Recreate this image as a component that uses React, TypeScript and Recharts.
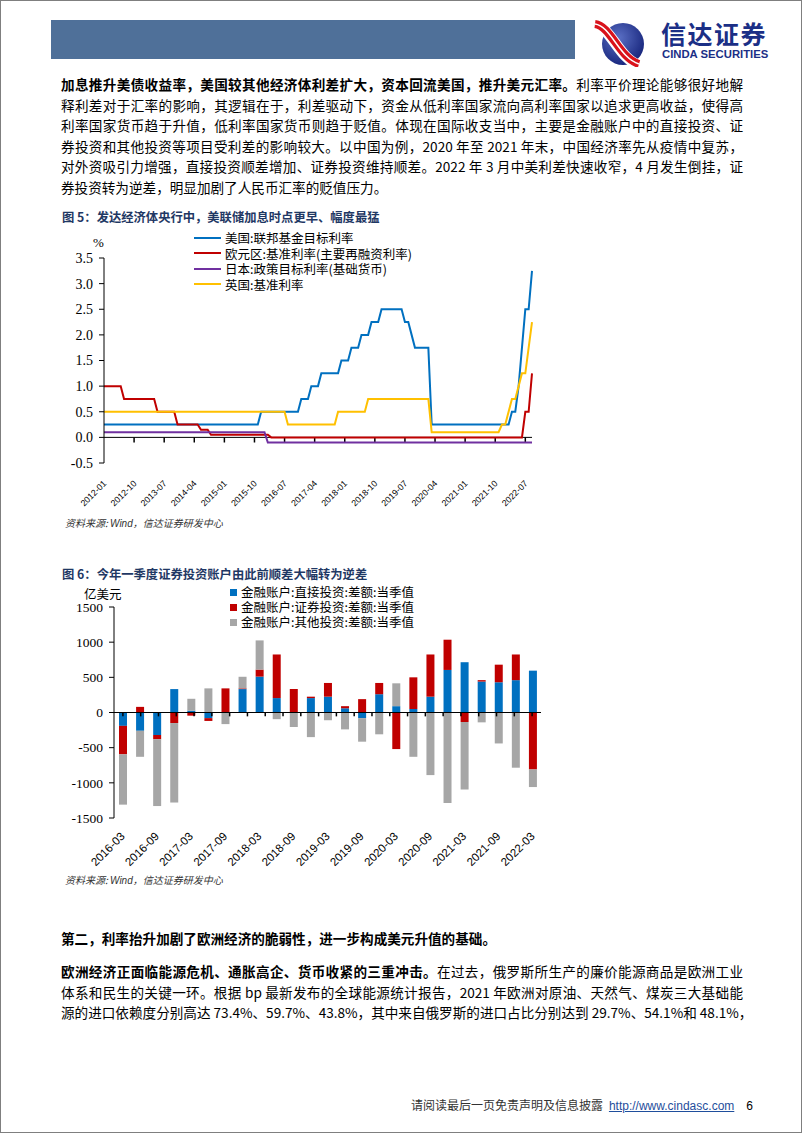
import React from 'react'
import { LineChart, Line, BarChart, Bar, XAxis, YAxis, ReferenceLine } from 'recharts'

const CJK = '"Noto Sans CJK SC", "Noto Sans", sans-serif'
const SERIF = '"Liberation Serif", "Times New Roman", serif'
const SANS = '"Liberation Sans", Arial, sans-serif'

// 图5：月度，2012-01 ~ 2022-09
const MONTHS: string[] = []
for (let y = 2012; y <= 2022; y++) {
  for (let m = 1; m <= 12; m++) {
    if (y < 2022 || m <= 9) MONTHS.push(`${y}-${String(m).padStart(2, '0')}`)
  }
}

const US_RATE = [
  0.25, 0.25, 0.25, 0.25, 0.25, 0.25, 0.25, 0.25, 0.25, 0.25, 0.25, 0.25,
  0.25, 0.25, 0.25, 0.25, 0.25, 0.25, 0.25, 0.25, 0.25, 0.25, 0.25, 0.25,
  0.25, 0.25, 0.25, 0.25, 0.25, 0.25, 0.25, 0.25, 0.25, 0.25, 0.25, 0.25,
  0.25, 0.25, 0.25, 0.25, 0.25, 0.25, 0.25, 0.25, 0.25, 0.25, 0.25, 0.5,
  0.5, 0.5, 0.5, 0.5, 0.5, 0.5, 0.5, 0.5, 0.5, 0.5, 0.5, 0.75,
  0.75, 0.75, 1, 1, 1, 1.25, 1.25, 1.25, 1.25, 1.25, 1.25, 1.5,
  1.5, 1.5, 1.75, 1.75, 1.75, 2, 2, 2, 2.25, 2.25, 2.25, 2.5,
  2.5, 2.5, 2.5, 2.5, 2.5, 2.5, 2.25, 2.25, 2, 1.75, 1.75, 1.75,
  1.75, 1.75, 0.25, 0.25, 0.25, 0.25, 0.25, 0.25, 0.25, 0.25, 0.25, 0.25,
  0.25, 0.25, 0.25, 0.25, 0.25, 0.25, 0.25, 0.25, 0.25, 0.25, 0.25, 0.25,
  0.25, 0.25, 0.5, 0.5, 1, 1.75, 2.5, 2.5, 3.25,
]

const ECB_RATE = [
  1, 1, 1, 1, 1, 1, 0.75, 0.75, 0.75, 0.75, 0.75, 0.75,
  0.75, 0.75, 0.75, 0.75, 0.5, 0.5, 0.5, 0.5, 0.5, 0.5, 0.25, 0.25,
  0.25, 0.25, 0.25, 0.25, 0.25, 0.15, 0.15, 0.15, 0.05, 0.05, 0.05, 0.05,
  0.05, 0.05, 0.05, 0.05, 0.05, 0.05, 0.05, 0.05, 0.05, 0.05, 0.05, 0.05,
  0.05, 0.05, 0, 0, 0, 0, 0, 0, 0, 0, 0, 0,
  0, 0, 0, 0, 0, 0, 0, 0, 0, 0, 0, 0,
  0, 0, 0, 0, 0, 0, 0, 0, 0, 0, 0, 0,
  0, 0, 0, 0, 0, 0, 0, 0, 0, 0, 0, 0,
  0, 0, 0, 0, 0, 0, 0, 0, 0, 0, 0, 0,
  0, 0, 0, 0, 0, 0, 0, 0, 0, 0, 0, 0,
  0, 0, 0, 0, 0, 0, 0.5, 0.5, 1.25,
]

const JP_RATE = [
  0.1, 0.1, 0.1, 0.1, 0.1, 0.1, 0.1, 0.1, 0.1, 0.1, 0.1, 0.1,
  0.1, 0.1, 0.1, 0.1, 0.1, 0.1, 0.1, 0.1, 0.1, 0.1, 0.1, 0.1,
  0.1, 0.1, 0.1, 0.1, 0.1, 0.1, 0.1, 0.1, 0.1, 0.1, 0.1, 0.1,
  0.1, 0.1, 0.1, 0.1, 0.1, 0.1, 0.1, 0.1, 0.1, 0.1, 0.1, 0.1,
  0.1, -0.1, -0.1, -0.1, -0.1, -0.1, -0.1, -0.1, -0.1, -0.1, -0.1, -0.1,
  -0.1, -0.1, -0.1, -0.1, -0.1, -0.1, -0.1, -0.1, -0.1, -0.1, -0.1, -0.1,
  -0.1, -0.1, -0.1, -0.1, -0.1, -0.1, -0.1, -0.1, -0.1, -0.1, -0.1, -0.1,
  -0.1, -0.1, -0.1, -0.1, -0.1, -0.1, -0.1, -0.1, -0.1, -0.1, -0.1, -0.1,
  -0.1, -0.1, -0.1, -0.1, -0.1, -0.1, -0.1, -0.1, -0.1, -0.1, -0.1, -0.1,
  -0.1, -0.1, -0.1, -0.1, -0.1, -0.1, -0.1, -0.1, -0.1, -0.1, -0.1, -0.1,
  -0.1, -0.1, -0.1, -0.1, -0.1, -0.1, -0.1, -0.1, -0.1,
]

const UK_RATE = [
  0.5, 0.5, 0.5, 0.5, 0.5, 0.5, 0.5, 0.5, 0.5, 0.5, 0.5, 0.5,
  0.5, 0.5, 0.5, 0.5, 0.5, 0.5, 0.5, 0.5, 0.5, 0.5, 0.5, 0.5,
  0.5, 0.5, 0.5, 0.5, 0.5, 0.5, 0.5, 0.5, 0.5, 0.5, 0.5, 0.5,
  0.5, 0.5, 0.5, 0.5, 0.5, 0.5, 0.5, 0.5, 0.5, 0.5, 0.5, 0.5,
  0.5, 0.5, 0.5, 0.5, 0.5, 0.5, 0.5, 0.25, 0.25, 0.25, 0.25, 0.25,
  0.25, 0.25, 0.25, 0.25, 0.25, 0.25, 0.25, 0.25, 0.25, 0.25, 0.5, 0.5,
  0.5, 0.5, 0.5, 0.5, 0.5, 0.5, 0.5, 0.75, 0.75, 0.75, 0.75, 0.75,
  0.75, 0.75, 0.75, 0.75, 0.75, 0.75, 0.75, 0.75, 0.75, 0.75, 0.75, 0.75,
  0.75, 0.75, 0.1, 0.1, 0.1, 0.1, 0.1, 0.1, 0.1, 0.1, 0.1, 0.1,
  0.1, 0.1, 0.1, 0.1, 0.1, 0.1, 0.1, 0.1, 0.1, 0.1, 0.1, 0.25,
  0.25, 0.5, 0.75, 0.75, 1, 1.25, 1.25, 1.75, 2.25,
]

const RATE_TICKS = [-0.5, 0, 0.5, 1, 1.5, 2, 2.5, 3, 3.5]

const RATE_SERIES = [
  { key: 'us', name: '美国:联邦基金目标利率', color: '#0070C0' },
  { key: 'ecb', name: '欧元区:基准利率(主要再融资利率)', color: '#C00000' },
  { key: 'jp', name: '日本:政策目标利率(基础货币)', color: '#7030A0' },
  { key: 'uk', name: '英国:基准利率', color: '#FFC000' },
]

// 图6：季度，亿美元
const QUARTERS = [
  '2016-03', '2016-06', '2016-09', '2016-12',
  '2017-03', '2017-06', '2017-09', '2017-12',
  '2018-03', '2018-06', '2018-09', '2018-12',
  '2019-03', '2019-06', '2019-09', '2019-12',
  '2020-03', '2020-06', '2020-09', '2020-12',
  '2021-03', '2021-06', '2021-09', '2021-12',
  '2022-03',
]
const DIRECT = [-190, -260, -320, 333, 25, -80, 0, 333, 510, 205, 0, 205, 225, 60, -80, 260, 90, 50, 225, 605, 715, 440, 430, 460, 595]
const SECURITIES = [-405, 80, -60, -150, -45, -40, 343, 10, 100, 620, 335, 20, 195, 30, 190, 160, -520, 450, 600, 430, -135, 20, 250, 365, -810]
const OTHER = [-715, -370, -950, -1130, 170, 343, -165, 165, 415, -95, -205, -350, -110, -240, -335, -310, 325, -630, -890, -1285, -960, -140, -440, -785, -250]
const FLOW_TICKS = [-1500, -1000, -500, 0, 500, 1000, 1500]
const BAND_EDGES = QUARTERS.map((_, i) => i + 0.5)

const FLOW_SERIES = [
  { key: 'direct', name: '金融账户:直接投资:差额:当季值', color: '#0070C0' },
  { key: 'securities', name: '金融账户:证券投资:差额:当季值', color: '#C00000' },
  { key: 'other', name: '金融账户:其他投资:差额:当季值', color: '#A6A6A6' },
]

const rateRows = MONTHS.map((m, i) => ({ m, us: US_RATE[i], ecb: ECB_RATE[i], jp: JP_RATE[i], uk: UK_RATE[i] }))
const flowRows = QUARTERS.map((q, i) => ({ q, direct: DIRECT[i], securities: SECURITIES[i], other: OTHER[i] }))

// eslint-disable-next-line @typescript-eslint/no-explicit-any
function SlantTick({ x, y, payload, fs, ox, oy }: any) {
  const tx = x + ox
  const ty = y + oy
  return (
    <text x={tx} y={ty} transform={`rotate(-45 ${tx} ${ty})`} textAnchor="end"
      fontSize={fs} fontFamily={SANS} fill="#000">
      {payload.value}
    </text>
  )
}

const abs = (left: number, top: number, extra: React.CSSProperties = {}): React.CSSProperties => ({
  position: 'absolute', left, top, ...extra,
})

const bodyLine: React.CSSProperties = {
  position: 'absolute', left: 60, width: 682, fontSize: 13.6, lineHeight: '20px',
  whiteSpace: 'nowrap', textAlign: 'justify', textAlignLast: 'justify', color: '#000',
}

function Logo() {
  return (
    <div style={abs(588, 18, { width: 200, height: 48 })}>
      <svg width={64} height={48} style={{ position: 'absolute', left: 0, top: 0 }}>
        <defs>
          <radialGradient id="ball" cx="40%" cy="35%" r="70%">
            <stop offset="0%" stopColor="#5a6fc4" />
            <stop offset="100%" stopColor="#15237a" />
          </radialGradient>
        </defs>
        <circle cx={34} cy={25} r={21} fill="url(#ball)" />
        <path d="M6 6 C 22 8, 30 40, 50 46" stroke="#fff" strokeWidth={11} fill="none" />
        <path d="M6 5 C 22 7, 30 39, 50 45" stroke="#d9121b" strokeWidth={8} fill="none" />
        <path d="M6 5 C 22 7, 30 39, 50 45" stroke="#fff" strokeWidth={1.5} fill="none" />
      </svg>
      <div style={abs(72, 0, { fontFamily: CJK, fontWeight: 700, fontSize: 25, color: '#1b2f86', letterSpacing: 1.5, lineHeight: '28px', whiteSpace: 'nowrap' })}>
        信达证券
      </div>
      <div style={abs(73, 29, { fontFamily: SANS, fontWeight: 700, fontSize: 11.3, color: '#1b2f86', lineHeight: '12px', whiteSpace: 'nowrap' })}>
        CINDA SECURITIES
      </div>
    </div>
  )
}

function RateChart() {
  return (
    <>
      <div style={abs(61, 209, { fontFamily: CJK, fontWeight: 700, fontSize: 12.3, color: '#1f3864', lineHeight: '14px' })}>
        图 5：发达经济体央行中，美联储加息时点更早、幅度最猛
      </div>
      <div style={abs(92, 235, { fontFamily: SERIF, fontSize: 13, lineHeight: '14px' })}>%</div>
      <div style={abs(40, 230)}>
        <LineChart width={520} height={300} data={rateRows} margin={{ top: 27, right: 29, bottom: 18, left: 0 }}>
          <XAxis dataKey="m" interval={8} axisLine={false} tickLine={false} tickSize={0} tickMargin={0} height={50}
            tick={(p: any) => <SlantTick {...p} fs={8.8} ox={3} oy={21} />} />
          <YAxis domain={[-0.5, 3.5]} ticks={RATE_TICKS} width={63} allowDataOverflow
            tickFormatter={(v: number) => v.toFixed(1)}
            axisLine={{ stroke: '#000' }} tickLine={{ stroke: '#000' }} tickSize={5} tickMargin={6}
            tick={{ fontFamily: SERIF, fontSize: 14, fill: '#000' }} />
          <ReferenceLine y={0} stroke="#000" strokeWidth={1} />
          {MONTHS.filter((_, i) => i % 9 === 0 && i > 0).map((t) => (
            <ReferenceLine key={t} segment={[{ x: t, y: 0 }, { x: t, y: -0.1 }]} stroke="#000" strokeWidth={1.5} />
          ))}
          {RATE_SERIES.map((s) => (
            <Line key={s.key} dataKey={s.key} name={s.name} type="linear" stroke={s.color} strokeWidth={2}
              dot={false} isAnimationActive={false} />
          ))}
        </LineChart>
      </div>
      <div style={abs(193, 229)}>
        {RATE_SERIES.map((s) => (
          <div key={s.key} style={{ display: 'flex', alignItems: 'center', height: 15.5 }}>
            <span style={{ display: 'inline-block', width: 27, height: 2, background: s.color, marginRight: 4 }} />
            <span style={{ fontFamily: CJK, fontSize: 12.5, color: '#000', lineHeight: '15px' }}>{s.name}</span>
          </div>
        ))}
      </div>
      <div style={abs(64, 515, { fontFamily: CJK, fontStyle: 'italic', fontSize: 10, color: '#333', lineHeight: '14px' })}>
        资料来源: <span style={{ fontFamily: SANS }}>Wind</span>，信达证券研发中心
      </div>
    </>
  )
}

function FlowChart() {
  return (
    <>
      <div style={abs(61, 566, { fontFamily: CJK, fontWeight: 700, fontSize: 12.3, color: '#1f3864', lineHeight: '14px' })}>
        图 6：今年一季度证券投资账户由此前顺差大幅转为逆差
      </div>
      <div style={abs(83, 585, { fontFamily: CJK, fontSize: 12.5, lineHeight: '15px' })}>亿美元</div>
      <div style={abs(40, 580)}>
        <BarChart width={520} height={300} data={flowRows} stackOffset="sign" barSize={8}
          margin={{ top: 26, right: 20, bottom: 19, left: 0 }}>
          <XAxis dataKey="q" interval={1} axisLine={false} tickLine={false} tickSize={0} tickMargin={0} height={44}
            tick={(p: any) => <SlantTick {...p} fs={11.5} ox={3} oy={19} />} />
          <XAxis xAxisId="edge" type="number" domain={[-0.5, QUARTERS.length - 0.5]} allowDataOverflow hide />
          <YAxis domain={[-1500, 1500]} ticks={FLOW_TICKS} width={73} allowDataOverflow
            axisLine={{ stroke: '#000' }} tickLine={{ stroke: '#000' }} tickSize={5} tickMargin={6}
            tick={{ fontFamily: SERIF, fontSize: 13.5, fill: '#000' }} />
          {FLOW_SERIES.map((s) => (
            <Bar key={s.key} dataKey={s.key} name={s.name} stackId="flow" fill={s.color} isAnimationActive={false} />
          ))}
          <ReferenceLine y={0} stroke="#000" strokeWidth={1} />
          {BAND_EDGES.map((b) => (
            <ReferenceLine key={b} xAxisId="edge" segment={[{ x: b, y: 0 }, { x: b, y: -55 }]} stroke="#000" strokeWidth={1.5} />
          ))}
        </BarChart>
      </div>
      <div style={abs(229, 583.5)}>
        {FLOW_SERIES.map((s) => (
          <div key={s.key} style={{ display: 'flex', alignItems: 'center', height: 15 }}>
            <span style={{ display: 'inline-block', width: 7, height: 7, background: s.color, marginRight: 4 }} />
            <span style={{ fontFamily: CJK, fontSize: 12.5, color: '#000', lineHeight: '14px' }}>{s.name}</span>
          </div>
        ))}
      </div>
      <div style={abs(64, 872, { fontFamily: CJK, fontStyle: 'italic', fontSize: 10, color: '#333', lineHeight: '14px' })}>
        资料来源: <span style={{ fontFamily: SANS }}>Wind</span>，信达证券研发中心
      </div>
    </>
  )
}

export default function App() {
  return (
    <div style={{
      position: 'absolute', left: 0, top: 0, width: 802, height: 1133, boxSizing: 'border-box',
      border: '1px solid #7f7f7f', background: '#fff', overflow: 'hidden', fontFamily: CJK,
    }}>
      <div style={abs(50, 19, { width: 524, height: 39, background: '#4f7099' })} />
      <Logo />

      <div style={{ ...bodyLine, top: 73 }}>
        <b>加息推升美债收益率，美国较其他经济体利差扩大，资本回流美国，推升美元汇率。</b>利率平价理论能够很好地解
      </div>
      <div style={{ ...bodyLine, top: 93.5 }}>释利差对于汇率的影响，其逻辑在于，利差驱动下，资金从低利率国家流向高利率国家以追求更高收益，使得高</div>
      <div style={{ ...bodyLine, top: 114 }}>利率国家货币趋于升值，低利率国家货币则趋于贬值。体现在国际收支当中，主要是金融账户中的直接投资、证</div>
      <div style={{ ...bodyLine, top: 134.5 }}>券投资和其他投资等项目受利差的影响较大。以中国为例，2020 年至 2021 年末，中国经济率先从疫情中复苏，</div>
      <div style={{ ...bodyLine, top: 155 }}>对外资吸引力增强，直接投资顺差增加、证券投资维持顺差。2022 年 3 月中美利差快速收窄，4 月发生倒挂，证</div>
      <div style={{ ...bodyLine, top: 175.5, textAlignLast: 'left' }}>券投资转为逆差，明显加剧了人民币汇率的贬值压力。</div>

      <RateChart />
      <FlowChart />

      <div style={{ ...bodyLine, top: 927, textAlignLast: 'left', fontWeight: 700 }}>
        第二，利率抬升加剧了欧洲经济的脆弱性，进一步构成美元升值的基础。
      </div>
      <div style={{ ...bodyLine, top: 960 }}>
        <b>欧洲经济正面临能源危机、通胀高企、货币收紧的三重冲击。</b>在过去，俄罗斯所生产的廉价能源商品是欧洲工业
      </div>
      <div style={{ ...bodyLine, top: 980.5 }}>体系和民生的关键一环。根据 bp 最新发布的全球能源统计报告，2021 年欧洲对原油、天然气、煤炭三大基础能</div>
      <div style={{ ...bodyLine, top: 1001 }}>源的进口依赖度分别高达 73.4%、59.7%、43.8%，其中来自俄罗斯的进口占比分别达到 29.7%、54.1%和 48.1%，</div>

      <div style={abs(0, 1096, { width: 752, textAlign: 'right', fontSize: 12, lineHeight: '16px', color: '#333', whiteSpace: 'nowrap' })}>
        请阅读最后一页免责声明及信息披露
        <span style={{ fontFamily: SANS, color: '#1f4e9c', textDecoration: 'underline', marginLeft: 6 }}>http://www.cindasc.com</span>
        <span style={{ fontFamily: SANS, color: '#000', marginLeft: 12 }}>6</span>
      </div>
    </div>
  )
}
